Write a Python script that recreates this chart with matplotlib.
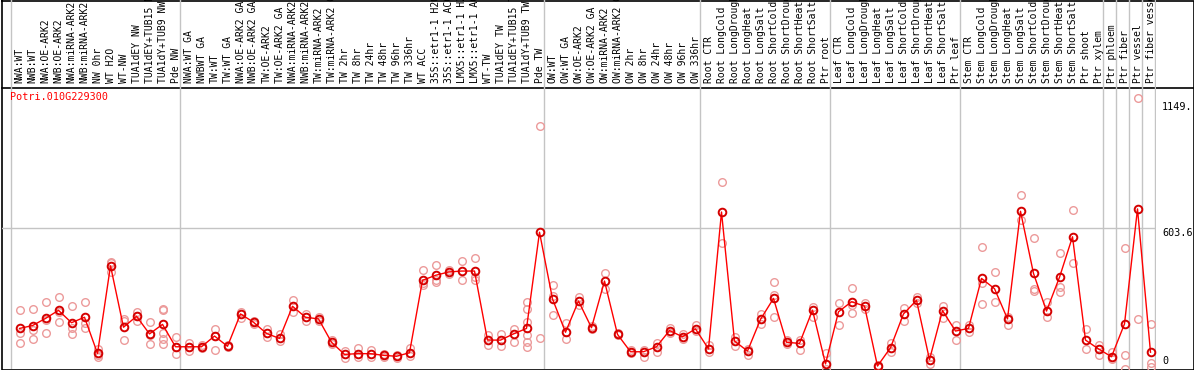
import numpy as np
import matplotlib
matplotlib.use("Agg")
import matplotlib.pyplot as plt
from matplotlib import transforms


gene = "Potri.010G229300"

samples = [
    "NWA:WT", "NWB:WT", "NWA:OE-ARK2", "NWB:OE-ARK2", "NWA:miRNA-ARK2", "NWB:miRNA-ARK2",
    "NW 0hr", "WT H2O", "WT-NW", "TUA1dEY NW", "TUA1dEY+TUB15 NW", "TUA1dY+TUB9 NW", "Pde NW",
    "NWA:WT GA", "NWBWT GA", "TW:WT", "TW:WT GA", "NWA:OE-ARK2 GA", "NWB:OE-ARK2 GA",
    "TW:OE-ARK2", "TW:OE-ARK2 GA", "NWA:miRNA-ARK2 GA", "NWB:miRNA-ARK2 GA", "TW:miRNA-ARK2",
    "TW:miRNA-ARK2 GA", "TW 2hr", "TW 8hr", "TW 24hr", "TW 48hr", "TW 96hr", "TW 336hr", "WT ACC",
    "35S::etr1-1 H2O", "35S::etr1-1 ACC", "LMX5::etr1-1 H2O", "LMX5::etr1-1 ACC", "WT-TW",
    "TUA1dEY TW", "TUA1dEY+TUB15 TW", "TUA1dY+TUB9 TW", "Pde TW",
    "OW:WT", "OW:WT GA", "OW:OE-ARK2", "OW:OE-ARK2 GA", "OW:miRNA-ARK2", "OW:miRNA-ARK2 GA",
    "OW 2hr", "OW 8hr", "OW 24hr", "OW 48hr", "OW 96hr", "OW 336hr",
    "Root CTR", "Root LongCold", "Root LongDrought", "Root LongHeat", "Root LongSalt",
    "Root ShortCold", "Root ShortDrought", "Root ShortHeat", "Root ShortSalt", "Ptr root",
    "Leaf CTR", "Leaf LongCold", "Leaf LongDrought", "Leaf LongHeat", "Leaf LongSalt",
    "Leaf ShortCold", "Leaf ShortDrought", "Leaf ShortHeat", "Leaf ShortSalt", "Ptr leaf",
    "Stem CTR", "Stem LongCold", "Stem LongDrought", "Stem LongHeat", "Stem LongSalt",
    "Stem ShortCold", "Stem ShortDrought", "Stem ShortHeat", "Stem ShortSalt", "Ptr shoot",
    "Ptr xylem", "Ptr phloem", "Ptr fiber", "Ptr vessel", "Ptr fiber vessel",
]

# mean expression per sample
means = [
    183, 195, 225, 259, 207, 230, 78, 446, 188, 234, 160, 200, 106,
    106, 106, 151, 108, 244, 209, 162, 141, 276, 230, 223, 125, 74, 77, 77, 70, 66, 81,
    385, 406, 420, 424, 424, 134, 134, 160, 183, 587,
    307, 167, 298, 186, 382, 158, 85, 85, 106, 174, 148, 181,
    97, 672, 130, 88, 221, 309, 125, 120, 260, 34,
    253, 295, 277, 25, 102, 244, 301, 52, 258, 172,
    183, 393, 350, 223, 675, 414, 256, 398, 568, 134, 97, 64, 202, 685, 83,
]

# individual replicates per sample
replicates = [
    [260, 165, 120], [265, 176, 139], [294, 219, 162], [314, 254, 209], [276, 183, 158],
    [294, 204, 186], [95, 71, 64], [463, 456, 420], [223, 214, 134], [253, 234, 216],
    [209, 157, 116], [265, 260, 162, 137, 116], [146, 106, 74],
    [120, 106, 88], [112, 100], [181, 151, 91], [112, 104], [253, 225], [216, 200],
    [179, 146], [160, 129], [302, 253], [245, 214], [230, 214], [134, 116], [88, 57],
    [100, 64], [92, 64], [74, 64], [71, 60], [100, 66], [427, 365, 372], [448, 386, 377],
    [428, 412], [465, 385], [477, 400, 386], [155, 113], [160, 109], [181, 125],
    [294, 263, 211, 155, 125, 106], [1033, 141],
    [365, 320, 238], [205, 137], [316, 280], [192, 180], [414, 349], [162, 154], [92, 78],
    [92, 64], [120, 85], [183, 165], [158, 137], [197, 172],
    [113, 85], [797, 540], [148, 109], [95, 71], [244, 200], [377, 323, 232], [134, 116],
    [134, 92], [274, 232], [78, 12],
    [288, 197], [351, 281, 249], [288, 265], [22, 30], [123, 85], [267, 214], [316, 288],
    [64, 32], [279, 225], [197, 134],
    [197, 170], [524, 372, 284], [419, 294], [230, 197], [742, 638], [561, 347, 340],
    [295, 232], [498, 358, 337], [679, 456], [179, 95], [113, 71], [85, 53],
    [519, 70, 11], [1150, 221], [200, 36, 20],
]

# last sample index of each group (separator drawn just after it)
group_ends = [12, 40, 52, 62, 72, 83, 84, 85, 86, 87]
max_value = 1149.7
mid_value = 603.6

W, H = 1194, 370
mono = "DejaVu Sans Mono"
fig = plt.figure(figsize=(W / 100, H / 100), dpi=100)

# frame / border
frame = fig.add_axes([0, 0, 1, 1])
frame.set_xlim(0, W)
frame.set_ylim(H, 0)
frame.axis("off")
frame.plot([1.5, 1193.5, 1193.5, 1.5, 1.5], [0.5, 0.5, 369.5, 369.5, 0.5], color="black", lw=1.2)
frame.plot([1.5, 1193.5], [88, 88], color="black", lw=1.2)

x = np.arange(len(samples))
xlim = ((2 - 19.5) / 13, (1156 - 19.5) / 13)

ax = fig.add_axes([2 / W, (H - 369) / H, 1154 / W, 281 / H])
hd = fig.add_axes([2 / W, (H - 88) / H, 1154 / W, 88 / H], sharex=ax)
for a in (ax, hd):
    a.set_xlim(*xlim)
    for s in a.spines.values():
        s.set_visible(False)
    a.set_xticks([])
    a.set_yticks([])
    a.patch.set_alpha(0)
ax.set_ylim(12.6, 1192.8)
hd.set_ylim(0, 88)

# separators
for g in [-0.65] + [e + 0.38 for e in group_ends]:
    ax.axvline(g, color="#c4c4c4", lw=1, zorder=0)
    hd.axvline(g, color="#c4c4c4", lw=1, zorder=0)
ax.axhline(mid_value, color="#c4c4c4", lw=1, zorder=0)

# sample labels
for i, lab in enumerate(samples):
    hd.text(i, 5, lab, rotation=90, ha="center", va="bottom", fontsize=7,
            family=mono, clip_on=True)

# replicates
rx = np.concatenate([[i] * len(r) for i, r in enumerate(replicates)])
ry = np.concatenate(replicates)
ax.plot(rx, ry, "o", mfc="none", mec="#ec9a9a", ms=5.5, mew=1.0, zorder=2)

# means
ax.plot(x, means, "-", color="red", lw=1, marker="o", mfc="none",
        mec="#d40000", ms=5.5, mew=1.4, zorder=3)

ax.text(8 / 1154, 1 - 4 / 281, gene, transform=ax.transAxes, color="red",
        fontsize=7.3, family=mono, va="top", ha="left")

# value labels on the right
tr = transforms.blended_transform_factory(fig.transFigure, ax.transData)
off = transforms.ScaledTranslation(0, -4 / 100, fig.dpi_scale_trans)
fig.text(1162 / W, max_value, "%.0f." % np.floor(max_value), transform=tr + off,
         fontsize=7.3, family=mono, va="top", ha="left")
fig.text(1162 / W, mid_value, "%.1f" % mid_value, transform=tr,
         fontsize=7.3, family=mono, va="top", ha="left")
tr0 = transforms.blended_transform_factory(fig.transFigure, ax.transAxes)
fig.text(1162 / W, 0.012, "0", transform=tr0, fontsize=7.3, family=mono,
         va="bottom", ha="left")

fig.savefig("out.png", dpi=100)
